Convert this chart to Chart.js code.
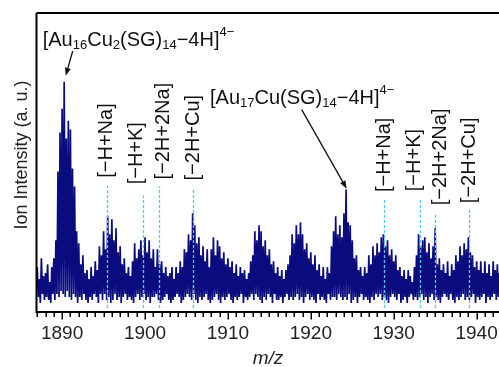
<!DOCTYPE html>
<html>
<head>
<meta charset="utf-8">
<script src="https://cdn.jsdelivr.net/npm/chart.js@4"></script>
<style>
  body { margin: 0; background: #fff; }
  canvas { display: block; }
</style>
</head>
<body>
<canvas id="ms" width="499" height="367"></canvas>
<script>
// spectrum: upper spike tips and lower spike tips,
// sampled every 0.25 m/z from 1887 (intensity in arbitrary units, 0..100)
const mzStart = 1887;
const mzStep = 0.25;
const peakTops = [
  15, 11, 18, 12,  13, 16, 10, 15,  18, 24, 47, 60,  68, 77, 58, 64,   // 1887-1890
  61, 48, 42, 27,  23, 16, 19, 13,  14, 11, 15, 12,  17, 14, 22, 19,   // 1891-1894
  27, 21, 32, 26,  31, 24, 28, 20,  22, 16, 18, 13,  15, 12, 17, 23,   // 1895-1898
  18, 21, 24, 19,  25, 20, 24, 18,  21, 15, 21, 16,  17, 13, 15, 12,   // 1899-1902
  13, 15, 11, 15,  13, 17, 15, 21,  20, 26, 24, 33,  29, 23, 25, 19,   // 1903-1906
  22, 17, 21, 15,  21, 25, 19, 24,  22, 18, 20, 16,  18, 15, 17, 13,   // 1907-1910
  16, 12, 15, 13,  14, 11, 13, 17,  19, 27, 24, 29,  27, 22, 24, 19,   // 1911-1914
  21, 16, 17, 13,  15, 12, 14, 11,  14, 16, 19, 26,  23, 29, 26, 30,   // 1915-1918
  26, 21, 23, 18,  20, 16, 19, 14,  16, 12, 15, 11,  15, 13, 22, 27,   // 1919-1922
  32, 26, 29, 25,  33, 41, 30, 29,  24, 18, 19, 14,  15, 12, 15, 13,   // 1923-1926
  19, 16, 22, 19,  23, 20, 25, 26,  22, 24, 19, 21,  17, 19, 14, 15,   // 1927-1930
  12, 14, 11, 14,  12, 10, 15, 19,  26, 22, 24, 25,  20, 23, 18, 22,   // 1931-1934
  28, 16, 18, 14,  16, 13, 17, 12,  16, 14, 19, 17,  22, 19, 23, 21,   // 1935-1938
  25, 20, 19, 15,  17, 14, 17, 13,  17, 13, 16, 12,  17, 14, 16, 13    // 1939-1942
];
const troughs = [
  5, 3, 6, 4,  5, 4, 3, 6,  4, 6, 5, 7,  6, 5, 7, 5,
  4, 6, 5, 3,  5, 4, 6, 4,  3, 5, 4, 6,  5, 3, 6, 4,
  6, 4, 5, 3,  4, 6, 4, 5,  3, 5, 6, 4,  5, 4, 3, 5,
  6, 4, 5, 6,  4, 5, 3, 5,  5, 6, 4, 3,  4, 5, 6, 4,
  3, 4, 5, 6,  5, 3, 4, 5,  6, 5, 4, 6,  4, 3, 5, 4,
  5, 6, 4, 3,  4, 5, 6, 4,  3, 5, 4, 5,  6, 4, 3, 5,
  4, 5, 6, 3,  5, 4, 5, 6,  4, 6, 5, 4,  3, 5, 4, 6,
  5, 3, 6, 4,  4, 5, 3, 5,  6, 4, 5, 4,  5, 6, 4, 5,
  3, 5, 6, 4,  5, 4, 3, 6,  4, 5, 4, 3,  6, 4, 5, 5,
  4, 6, 5, 4,  5, 4, 6, 3,  4, 5, 3, 5,  6, 4, 5, 4,
  3, 5, 4, 6,  5, 6, 4, 5,  4, 3, 5, 6,  5, 4, 6, 3,
  4, 5, 3, 5,  6, 4, 5, 4,  5, 6, 4, 5,  3, 5, 6, 4,
  5, 4, 3, 5,  6, 5, 4, 6,  4, 3, 5, 4,  5, 6, 4, 5,
  4, 5, 6, 3,  5, 4, 5, 6,  3, 5, 4, 5,  6, 4, 5, 4
];

const xTickValues = [1890, 1900, 1910, 1920, 1930, 1940];

// adduct markers: dashed line m/z, line top, label text
const adductMz = [1895.42, 1899.76, 1901.72, 1905.79, 1928.79, 1933.14, 1934.98, 1939.12];
const adductLineTop = [42.3, 39, 42, 41, 38.1, 38.1, 33.1, 34.2];
const adductText = ['[−H+Na]', '[−H+K]', '[−2H+2Na]', '[−2H+Cu]', '[−H+Na]', '[−H+K]', '[−2H+2Na]', '[−2H+Cu]'];
const adductTextMz = [1895.38, 1899.0, 1902.21, 1905.79, 1928.83, 1932.53, 1935.67, 1939.17];
const adductTextY = [44.9, 42.7, 44.3, 44, 40.1, 40.4, 35.7, 36.4];

// cluster labels, pieces: [text, 'sub'|'sup'|undefined]
const clusterLabels = [
  { mz: 1887.66, y: 89, arrow: [1891.28, 87.3, 1890.43, 79],
    parts: [['[Au'], ['16', 'sub'], ['Cu'], ['2', 'sub'], ['(SG)'], ['14', 'sub'], ['−4H]'], ['4−', 'sup']] },
  { mz: 1907.84, y: 69.7, arrow: [1918.9, 67.7, 1924.33, 41.2],
    parts: [['[Au'], ['17', 'sub'], ['Cu(SG)'], ['14', 'sub'], ['−4H]'], ['4−', 'sup']] }
];

const FONT = "'Liberation Sans', Arial, sans-serif";

const points = [];
peakTops.forEach((v, i) => {
  const mz = mzStart + i * mzStep;
  points.push({ x: mz, y: v });
  points.push({ x: mz + mzStep / 2, y: troughs[i] });
});

function arrow(ctx, x1, y1, x2, y2) {
  const a = Math.atan2(y2 - y1, x2 - x1);
  const len = 8, half = 3;
  const bx = x2 - len * Math.cos(a), by = y2 - len * Math.sin(a);
  ctx.beginPath();
  ctx.moveTo(x1, y1);
  ctx.lineTo(bx, by);
  ctx.stroke();
  ctx.beginPath();
  ctx.moveTo(x2, y2);
  ctx.lineTo(bx + half * Math.sin(a), by - half * Math.cos(a));
  ctx.lineTo(bx - half * Math.sin(a), by + half * Math.cos(a));
  ctx.closePath();
  ctx.fill();
}

function richText(ctx, parts, x, y) {
  ctx.textAlign = 'left';
  ctx.textBaseline = 'alphabetic';
  parts.forEach(([t, kind]) => {
    ctx.font = kind ? `13px ${FONT}` : `20px ${FONT}`;
    const dy = kind === 'sub' ? 3.5 : kind === 'sup' ? -10 : 0;
    ctx.fillText(t, x, y + dy);
    x += ctx.measureText(t).width;
  });
}

const decorations = {
  id: 'decorations',
  afterDatasetsDraw(chart) {
    const { ctx, chartArea: ca, scales: { x, y } } = chart;
    ctx.save();

    // dashed adduct lines
    ctx.strokeStyle = '#52c5f2';
    ctx.lineWidth = 1.3;
    ctx.setLineDash([3, 2]);
    adductMz.forEach((m, i) => {
      const px = Math.round(x.getPixelForValue(m)) + 0.5;
      ctx.beginPath();
      ctx.moveTo(px, y.getPixelForValue(1.3));
      ctx.lineTo(px, y.getPixelForValue(adductLineTop[i]));
      ctx.stroke();
    });
    ctx.setLineDash([]);

    // frame (right side runs off the picture)
    ctx.strokeStyle = '#000';
    ctx.lineWidth = 2;
    ctx.beginPath();
    ctx.moveTo(ca.left - 0.5, ca.top);
    ctx.lineTo(ca.right + 2, ca.top);
    ctx.moveTo(ca.left - 0.5, ca.top);
    ctx.lineTo(ca.left - 0.5, ca.bottom);
    ctx.moveTo(ca.left - 1.5, ca.bottom);
    ctx.lineTo(ca.right + 2, ca.bottom);
    ctx.stroke();

    // tick marks every 1 m/z, longer at labelled ones
    ctx.lineWidth = 1.5;
    for (let v = Math.ceil(x.min); v <= x.max; v++) {
      const px = Math.round(x.getPixelForValue(v)) + 0.25;
      const len = v % 10 === 0 ? 6.5 : 4;
      ctx.beginPath();
      ctx.moveTo(px, ca.bottom + 1);
      ctx.lineTo(px, ca.bottom + 1 + len);
      ctx.stroke();
    }

    ctx.fillStyle = '#111';
    // rotated adduct labels
    ctx.font = `20px ${FONT}`;
    adductText.forEach((t, i) => {
      ctx.save();
      ctx.translate(x.getPixelForValue(adductTextMz[i]), y.getPixelForValue(adductTextY[i]));
      ctx.rotate(-Math.PI / 2);
      ctx.textAlign = 'left';
      ctx.textBaseline = 'middle';
      ctx.fillText(t, 0, 0);
      ctx.restore();
    });

    // cluster labels with arrows
    ctx.strokeStyle = '#111';
    ctx.lineWidth = 1.3;
    clusterLabels.forEach(l => {
      richText(ctx, l.parts, x.getPixelForValue(l.mz), y.getPixelForValue(l.y));
      const [m1, i1, m2, i2] = l.arrow;
      arrow(ctx, x.getPixelForValue(m1), y.getPixelForValue(i1), x.getPixelForValue(m2), y.getPixelForValue(i2));
    });

    // axis titles
    ctx.fillStyle = '#222';
    ctx.font = `18px ${FONT}`;
    ctx.save();
    ctx.translate(22, ca.top + 142);
    ctx.rotate(-Math.PI / 2);
    ctx.textAlign = 'center';
    ctx.textBaseline = 'middle';
    ctx.fillText('Ion Intensity (a. u.)', 0, 0);
    ctx.restore();

    ctx.font = `italic 19px ${FONT}`;
    ctx.textAlign = 'center';
    ctx.textBaseline = 'alphabetic';
    ctx.fillText('m/z', (ca.left + ca.right) / 2, 364);

    ctx.restore();
  }
};

new Chart(document.getElementById('ms'), {
  type: 'line',
  data: {
    datasets: [{
      data: points,
      borderColor: '#0b0b80',
      borderWidth: 1.7,
      borderJoinStyle: 'bevel',
      pointRadius: 0,
      tension: 0,
      fill: false
    }]
  },
  options: {
    responsive: false,
    animation: false,
    layout: { padding: { left: 37, top: 13, right: 0, bottom: 0 } },
    plugins: {
      legend: { display: false },
      tooltip: { enabled: false }
    },
    scales: {
      x: {
        type: 'linear',
        min: 1886.97,
        max: 1942.7,
        afterBuildTicks: s => { s.ticks = xTickValues.map(v => ({ value: v })); },
        afterFit: s => { s.height = 55; },
        grid: {
          display: true,
          drawOnChartArea: false,
          drawTicks: true,
          tickLength: 10,
          tickColor: 'rgba(0,0,0,0)'
        },
        border: { display: false },
        ticks: {
          autoSkip: false,
          maxRotation: 0,
          padding: 0,
          color: '#222',
          font: { family: FONT, size: 19 },
          callback: v => String(v)
        }
      },
      y: { display: false, min: 0, max: 100 }
    }
  },
  plugins: [decorations]
});
</script>
</body>
</html>
